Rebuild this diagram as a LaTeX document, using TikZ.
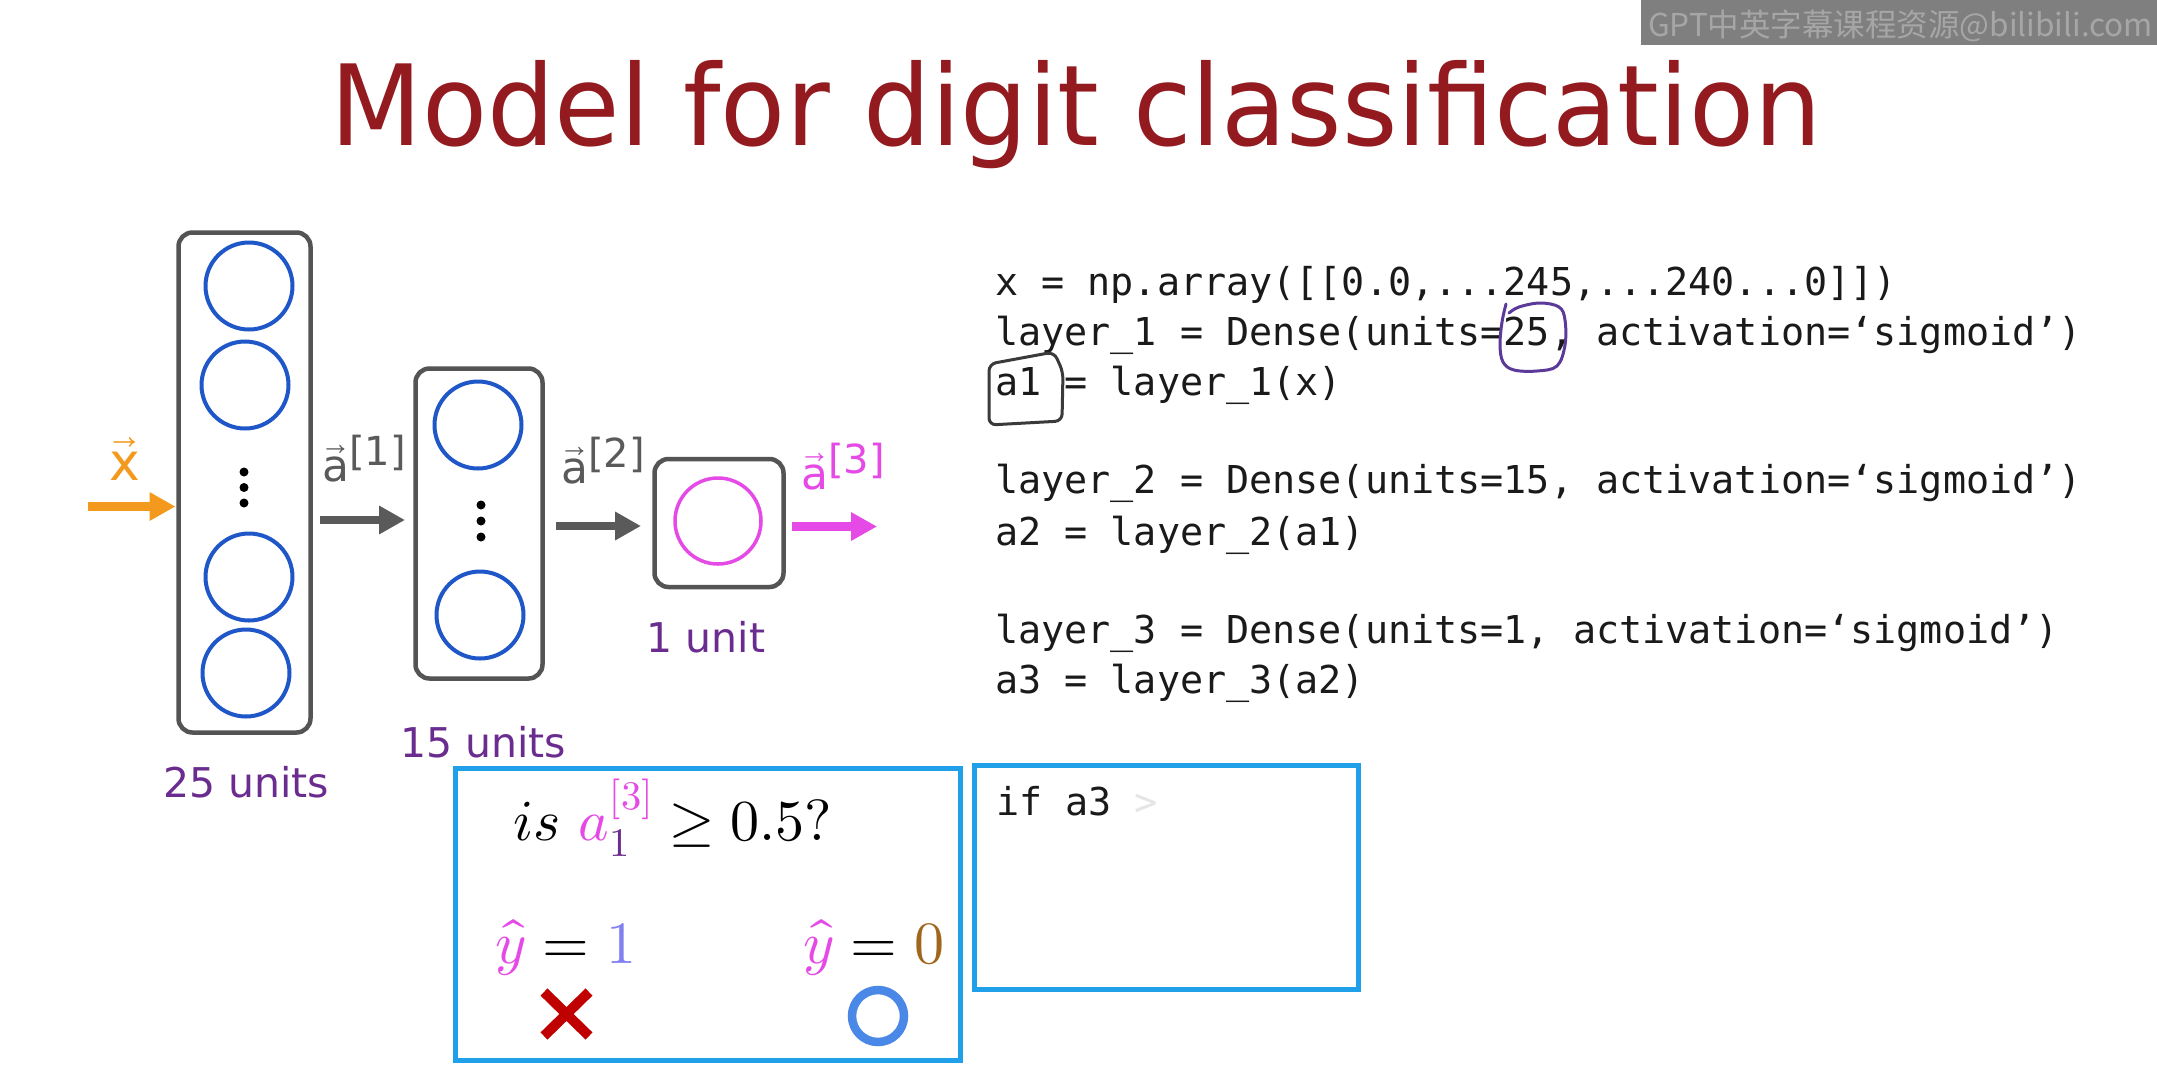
\documentclass[tikz,border=0pt]{standalone}
\usepackage{fontspec}
\usepackage{unicode-math}
\setmainfont{DejaVu Sans}
\setmonofont{DejaVu Sans Mono}
\setmathfont{Latin Modern Math}
\newfontfamily\cjkfont{Noto Sans CJK SC}
\usetikzlibrary{arrows.meta,calc}
\newcommand\fsz[1]{\fontsize{#1}{#1}\selectfont}
\definecolor{titlered}{HTML}{931B1F}
\definecolor{boxgray}{HTML}{545454}
\definecolor{unitblue}{HTML}{1F57C8}
\definecolor{pinkc}{HTML}{E64AE6}
\definecolor{unitpurple}{HTML}{6A2D8F}
\definecolor{orangec}{HTML}{F39A1E}
\definecolor{arrowgray}{HTML}{5A5A5A}
\definecolor{panelblue}{HTML}{1FA0E8}
\definecolor{codeblack}{HTML}{1A1A1A}
\definecolor{xred}{HTML}{C00000}
\definecolor{oblue}{HTML}{4A88E8}
\definecolor{onecol}{HTML}{8080F0}
\definecolor{brownc}{HTML}{A0661C}
\definecolor{hwpurple}{HTML}{5C3A99}
\definecolor{hwgray}{HTML}{3A3A3A}
\definecolor{bannergray}{HTML}{7F7F7F}
\definecolor{bannertext}{HTML}{A6A6A6}
\tikzset{
  layerbox/.style={draw=boxgray, line width=4.5pt, rounded corners=14pt, inner sep=0pt, outer sep=0pt},
  unitc/.style={circle, draw=unitblue, line width=4pt, minimum size=87pt, inner sep=0pt},
  flow/.style={line width=8.5pt, -{Triangle[length=26pt,width=27pt]}},
  code/.style={anchor=base west, inner sep=0pt, text=codeblack, font=\fontsize{38.4}{40}\selectfont\ttfamily},
  panel/.style={draw=panelblue, line width=5pt, inner sep=0pt, outer sep=0pt},
  unitlabel/.style={anchor=base, inner sep=0pt, text=unitpurple, font=\fsz{41}},
  plain/.style={anchor=base west, inner sep=0pt},
  veclabel/.style={anchor=base west, inner sep=0pt, font=\fsz{44}}
}
\begin{document}
\begin{tikzpicture}[x=1pt,y=-1pt]
\useasboundingbox (0,0) rectangle (2157,1069);
\fill[white] (0,0) rectangle (2157,1069);

% watermark banner
\fill[bannergray] (1641,0) rectangle (2157,45);
\node[plain, text=bannertext, font=\cjkfont\fsz{31.5}] (wm) at (1648,36) {GPT中英字幕课程资源@bilibili.com};

% title
\node[plain, text=titlered, font=\fsz{112}] (title) at (330,145) {\scalebox{0.95}[1]{Model for digit classification}};

% layers
\node[layerbox, minimum width=132pt, minimum height=500pt] (L1) at (244.5,482.5) {};
\node[layerbox, minimum width=127pt, minimum height=310pt] (L2) at (479,523.5) {};
\node[layerbox, minimum width=129pt, minimum height=128pt] (L3) at (719,523) {};

\node[unitc] (c11) at (249,286) {};
\node[unitc] (c12) at (245,385) {};
\node[unitc] (c13) at (249,577) {};
\node[unitc] (c14) at (246,673) {};
\node[unitc] (c21) at (478,425) {};
\node[unitc] (c22) at (480,615) {};
\node[unitc, draw=pinkc, line width=3.5pt, minimum size=86pt] (c31) at (718,521) {};

\foreach \yy in {472,487.5,503} \fill (244,\yy) circle[radius=4.5pt];
\foreach \yy in {505,521,537} \fill (481,\yy) circle[radius=4.5pt];

\node[unitlabel] (u1) at (246,797) {25 units};
\node[unitlabel] (u2) at (483,757) {15 units};
\node[unitlabel] (u3) at (706,652) {1 unit};

% arrows
\coordinate (xin) at (88,506.5);
\draw[flow, orangec, shorten >=3pt] (xin) -- (xin -| L1.west);
\draw[flow, arrowgray, shorten <=9.5pt, shorten >=10.5pt] (L1.east |- 0,520) -- (L2.west |- 0,520);
\draw[flow, arrowgray, shorten <=13.5pt, shorten >=13.5pt] (L2.east |- 0,526) -- (L3.west |- 0,526);
\coordinate (aout) at (877,526.5);
\draw[flow, pinkc, shorten <=8.5pt] (L3.east |- aout) -- (aout);

% arrow labels
\node[veclabel, text=orangec, font=\fsz{52}] (lx) at (109,480) {$\vec{\hbox{x}}$};
\node[veclabel, text=arrowgray] (la1) at (322,481) {$\vec{\hbox{a}}$\raisebox{16pt}{\fsz{40}[1]}};
\node[veclabel, text=arrowgray] (la2) at (561,483) {$\vec{\hbox{a}}$\raisebox{16pt}{\fsz{40}[2]}};
\node[veclabel, text=pinkc] (la3) at (801,489) {$\vec{\hbox{a}}$\raisebox{16pt}{\fsz{40}[3]}};

% code
\node[code] (k1) at (995,295) {x = np.array([[0.0,...245,...240...0]])};
\node[code] (k2) at (995,345) {layer\_1 = Dense(units=25, activation=‘sigmoid’)};
\node[code] (k3) at (995,395) {a1 = layer\_1(x)};
\node[code] (k4) at (995,493) {layer\_2 = Dense(units=15, activation=‘sigmoid’)};
\node[code] (k5) at (995,545) {a2 = layer\_2(a1)};
\node[code] (k6) at (995,643) {layer\_3 = Dense(units=1, activation=‘sigmoid’)};
\node[code] (k7) at (995,693) {a3 = layer\_3(a2)};

% handwriting
\draw[hwpurple, line width=3pt, line cap=round, line join=round]
  plot[smooth, tension=0.6] coordinates {(1506,304) (1502,322) (1500,345) (1503,362) (1514,370) (1537,371) (1557,366) (1565,345) (1565,320) (1559,307) (1540,303) (1519,307) (1509,313)};
\draw[hwgray, line width=3pt, line cap=round, rounded corners=7pt]
  (989,364) -- (1054,352) -- (1063,372) -- (1062,421) -- (989,425) -- cycle;

% bottom panels
\node[panel, minimum width=505pt, minimum height=292pt] (P1) at (708,914.5) {};
\node[panel, minimum width=384pt, minimum height=224pt] (P2) at (1166.5,877.5) {};

\node[plain, font=\fsz{58}] (q) at (513,840) {$is\ {\color{pinkc}a}_{{\color{unitpurple}1}}^{{\color{pinkc}[3]}} \geq 0.5?$};
\node[plain, font=\fsz{60}] (y1) at (495,963) {${\color{pinkc}\hat{y}} = {\color{onecol}1}$};
\node[plain, font=\fsz{60}] (y0) at (803,963) {${\color{pinkc}\hat{y}} = {\color{brownc}0}$};

\draw[xred, line width=10pt] (544,992) -- (589,1036) (544,1036) -- (589,992);
\draw[oblue, line width=8.5pt] (878,1016) circle[radius=26pt];

\node[code] (ifa) at (996,815) {if a3};
\node[code, text=black!10] (gt) at (1134,815) {>};
\end{tikzpicture}
\end{document}
